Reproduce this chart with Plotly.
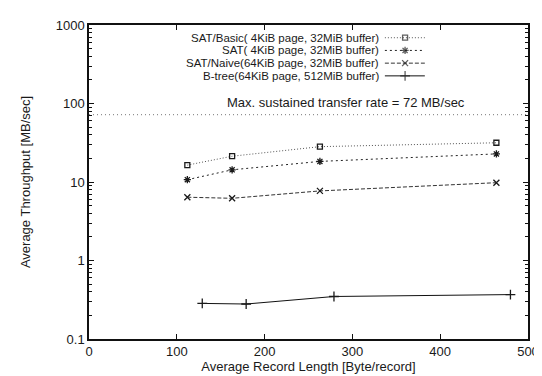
import plotly.graph_objects as go

# ---- data ----
series_names = [
    "SAT/Basic( 4KiB page, 32MiB buffer)",
    "SAT( 4KiB page, 32MiB buffer)",
    "SAT/Naive(64KiB page, 32MiB buffer)",
    "B-tree(64KiB page, 512MiB buffer)",
]
x_basic = [112, 163, 263, 464]
y_basic = [16.4, 21.3, 28.2, 31.6]
x_sat = [112, 163, 263, 464]
y_sat = [10.7, 14.3, 18.3, 22.8]
x_naive = [112, 163, 263, 464]
y_naive = [6.4, 6.2, 7.7, 9.8]
x_btree = [129, 179, 279, 480]
y_btree = [0.284, 0.279, 0.348, 0.368]
max_rate = 72
max_rate_label = "Max. sustained transfer rate = 72 MB/sec"
x_ticks = [0, 100, 200, 300, 400, 500]
y_ticks = [0.1, 1, 10, 100, 1000]
y_ticktext = ["0.1", "1", "10", "100", "1000"]
y_minor = [m * d for d in [0.1, 1, 10, 100] for m in range(2, 10)]

FONT = "Liberation Sans, Arial, Helvetica, sans-serif"
INK = "#1a1a1a"

styles = [
    dict(dash="1px,2px", symbol="square-open", size=5, color="#555555"),
    dict(dash="2px,3px", symbol="asterisk-open", size=6, color="#222222"),
    dict(dash="4px,2px", symbol="x-thin-open", size=6, color="#333333"),
    dict(dash="solid", symbol="cross-thin-open", size=7, color="#111111"),
]
xs = [x_basic, x_sat, x_naive, x_btree]
ys = [y_basic, y_sat, y_naive, y_btree]

fig = go.Figure()

# max transfer rate line
fig.add_trace(go.Scatter(
    x=[x_ticks[0], x_ticks[-1]], y=[max_rate, max_rate], mode="lines",
    line=dict(color="#777777", width=1, dash="1px,3px"), showlegend=False,
    hoverinfo="skip"))

for name, x, y, st in zip(series_names, xs, ys, styles):
    fig.add_trace(go.Scatter(
        x=x, y=y, mode="lines+markers", name=name, showlegend=False,
        line=dict(color=st["color"], width=1, dash=st["dash"]),
        marker=dict(symbol=st["symbol"], size=st["size"], color=INK,
                    line=dict(color=INK, width=1.3))))

# gnuplot-style key: text on the left, sample on the right (overlay axes in plot fractions)
key_rows = [0.9595, 0.9190, 0.8785, 0.8380]
key_x0, key_xm, key_x1 = 0.674, 0.72, 0.765
key_text_x = 0.663
for name, row, st in zip(series_names, key_rows, styles):
    fig.add_trace(go.Scatter(
        x=[key_x0, key_xm, key_x1], y=[row, row, row], mode="lines+markers",
        xaxis="x2", yaxis="y2", showlegend=False, hoverinfo="skip",
        line=dict(color=st["color"], width=1, dash=st["dash"]),
        marker=dict(symbol=st["symbol"], size=[0, st["size"], 0], color=INK,
                    line=dict(color=INK, width=1.3))))
    fig.add_annotation(x=key_text_x, y=row, xref="paper", yref="paper",
                       text=name, showarrow=False, xanchor="right",
                       yanchor="middle", borderpad=0,
                       font=dict(size=11.5, color=INK, family=FONT))

fig.add_annotation(x=0.861, y=2.0, xref="paper", yref="y",
                   text=max_rate_label, showarrow=False, xanchor="right",
                   yanchor="middle", yshift=1,
                   font=dict(size=13, color=INK, family=FONT))

axis_common = dict(showline=True, linecolor="#111111", linewidth=1.5,
                   mirror="ticks", ticks="inside", tickcolor="#111111",
                   showgrid=False, zeroline=False,
                   tickfont=dict(size=13, color=INK, family=FONT))

fig.update_layout(
    width=542, height=376,
    margin=dict(l=81, r=22, t=10, b=45),
    paper_bgcolor="white", plot_bgcolor="white",
    font=dict(family=FONT, size=13, color=INK),
    xaxis=dict(range=[0, 500], tickvals=x_ticks, ticklen=5,
               title=dict(text="Average Record Length [Byte/record]",
                          font=dict(size=13, color=INK), standoff=4),
               **axis_common),
    yaxis=dict(type="log", range=[-1, 3], tickvals=y_ticks, ticktext=y_ticktext,
               ticklen=5,
               minor=dict(tickvals=y_minor, ticks="inside", ticklen=3,
                          tickcolor="#111111", showgrid=False),
               title=dict(text="Average Throughput [MB/sec]",
                          font=dict(size=13, color=INK), standoff=22),
               **axis_common),
    xaxis2=dict(overlaying="x", range=[0, 1], visible=False),
    yaxis2=dict(overlaying="y", range=[0, 1], visible=False),
)

fig.write_html("out.html")
